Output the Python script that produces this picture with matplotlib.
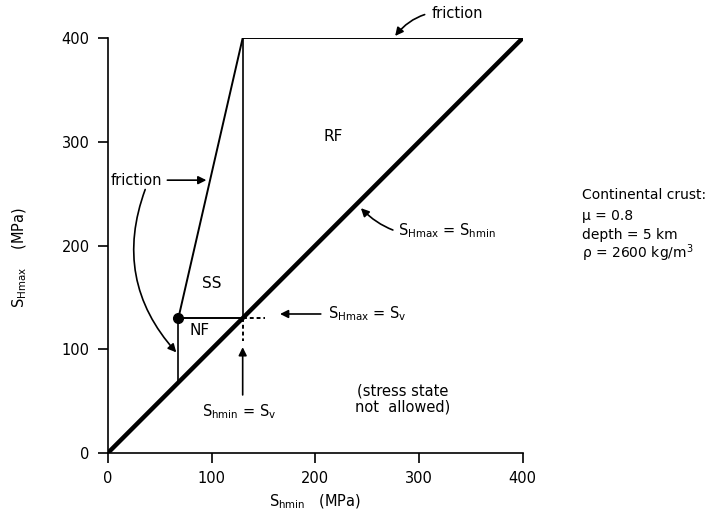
import matplotlib
matplotlib.use("Agg")
import matplotlib.pyplot as plt

plt.rcParams['font.family'] = ['DejaVu Sans']
plt.rcParams['mathtext.fontset'] = 'dejavusans'

# stress values (MPa)
sv = 130            # vertical stress
nf_shmin = 68       # Shmin limit for normal faulting
top = 400           # SHmax limit (reverse faulting friction)
axis_max = 400
ticks = [0, 100, 200, 300, 400]

# polygon edges
diag_x = [0, axis_max]
diag_y = [0, axis_max]
ss_x = [nf_shmin, sv]
ss_y = [sv, top]
top_x = [sv, axis_max]
top_y = [top, top]
sv_vert_x = [sv, sv]
sv_vert_y = [sv, top]
nf_vert_x = [nf_shmin, nf_shmin]
nf_vert_y = [nf_shmin, sv]
nf_top_x = [nf_shmin, sv]
nf_top_y = [sv, sv]

crust_lines = ['Continental crust:', '\u03bc = 0.8', 'depth = 5 km',
               '\u03c1 = 2600 kg/m$^3$']


def main():
    fig = plt.figure(figsize=(7.19, 5.21), dpi=100)
    ax = fig.add_axes([0.150, 0.1305, 0.577, 0.7965])

    ax.plot(diag_x, diag_y, color='black', lw=3.2, solid_capstyle='butt')
    ax.plot(ss_x, ss_y, color='black', lw=1.4)
    ax.plot(top_x, top_y, color='black', lw=1.4)
    ax.plot(sv_vert_x, sv_vert_y, color='black', lw=1.2)
    ax.plot(nf_vert_x, nf_vert_y, color='black', lw=1.2)
    ax.plot(nf_top_x, nf_top_y, color='black', lw=1.4)
    ax.plot([sv, sv + 22], [sv, sv], color='black', lw=1.4, ls=(0, (2, 1.5)))
    ax.plot([sv, sv], [sv, sv - 22], color='black', lw=1.4, ls=(0, (2, 1.5)))
    ax.plot([nf_shmin], [sv], 'o', color='black', ms=7)

    # region labels
    kw = dict(fontsize=11, ha='center', va='center')
    ax.text(217, 305, 'RF', **kw)
    ax.text(100, 163, 'SS', **kw)
    ax.text(88, 118, 'NF', **kw)

    # annotations
    fs = 10.5
    arr = dict(arrowstyle='-|>', color='black', lw=1.2, mutation_scale=12)
    ax.annotate('friction', xy=(277, 402), xytext=(312, 424), fontsize=fs,
                ha='left', va='center', annotation_clip=False,
                arrowprops=dict(connectionstyle='arc3,rad=0.3', shrinkB=0, shrinkA=3, **arr))
    ax.annotate('friction', xy=(95, 263), xytext=(52, 263), fontsize=fs,
                ha='right', va='center',
                arrowprops=dict(shrinkB=0, shrinkA=2, **arr))
    ax.annotate('', xy=(66, 97), xytext=(36, 254),
                arrowprops=dict(connectionstyle='arc3,rad=0.3',
                                shrinkB=0, shrinkA=0, **arr))
    ax.annotate(r'S$_{\rm Hmax}$ = S$_{\rm hmin}$', xy=(244, 236), xytext=(280, 214),
                fontsize=fs, ha='left', va='center',
                arrowprops=dict(connectionstyle='arc3,rad=-0.3', shrinkB=0, shrinkA=2, **arr))
    ax.annotate(r'S$_{\rm Hmax}$ = S$_{\rm v}$', xy=(166, 134), xytext=(212, 134),
                fontsize=fs, ha='left', va='center',
                arrowprops=dict(shrinkB=0, shrinkA=3, **arr))
    ax.annotate('', xy=(sv, 102), xytext=(sv, 56),
                arrowprops=dict(shrinkB=0, shrinkA=0, **arr))
    ax.text(127, 40, r'S$_{\rm hmin}$ = S$_{\rm v}$', fontsize=fs, ha='center', va='center')
    ax.text(284, 52, '(stress state\nnot  allowed)', fontsize=fs, ha='center', va='center',
            linespacing=1.15)

    for i, line in enumerate(crust_lines):
        base = [199, 220, 239, 258][i]
        fig.text(582 / 719, 1 - base / 521, line, fontsize=10, ha='left', va='baseline')

    ax.set_xlim(0, axis_max)
    ax.set_ylim(0, axis_max)
    ax.set_xticks(ticks)
    ax.set_yticks(ticks)
    for s in ['top', 'right']:
        ax.spines[s].set_visible(False)
    for s in ['left', 'bottom']:
        ax.spines[s].set_linewidth(1.2)
    ax.tick_params(direction='out', length=7, width=1.2, labelsize=10.5)
    ax.tick_params(axis='y', pad=6)
    ax.tick_params(axis='x', pad=6)
    ax.set_xlabel(r'S$_{\rm hmin}$   (MPa)', fontsize=10.5, labelpad=5)
    ax.set_ylabel(r'S$_{\rm Hmax}$    (MPa)', fontsize=10.5)
    ax.yaxis.set_label_coords(-0.19, 0.47)

    fig.savefig('out.png', dpi=100, facecolor='white')


if __name__ == "__main__":
    main()
